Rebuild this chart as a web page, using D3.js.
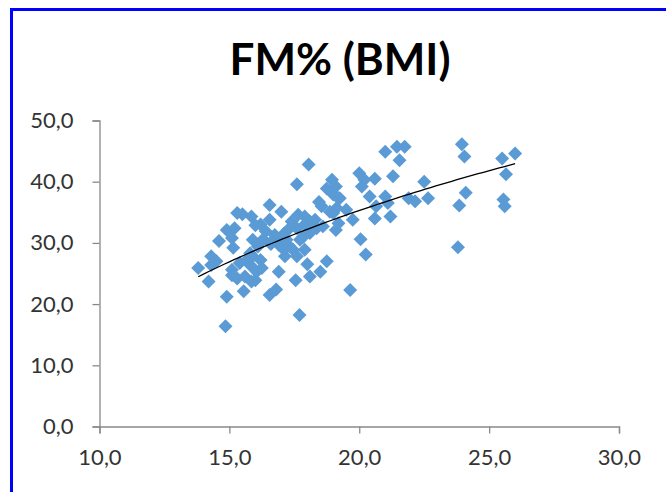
<!DOCTYPE html>
<html>
<head>
<meta charset="utf-8">
<script src="https://cdn.jsdelivr.net/npm/d3@7.9.0/dist/d3.min.js"></script>
<style>
  html, body { margin: 0; padding: 0; background: #fff; }
  svg { display: block; }
  text { font-family: Lato, "Open Sans", sans-serif; }
</style>
</head>
<body>
<svg id="chart" width="666" height="492"></svg>
<script>
const title = 'FM% (BMI)';
const xTicks = [10, 15, 20, 25, 30];
const yTicks = [0, 10, 20, 30, 40, 50];

// BMI values
const bmi = [
  13.8, 14.2, 14.3, 14.5, 14.6, 14.9, 14.9, 14.85, 15.3, 15.15,
  15.3, 15.2, 15.1, 15.1, 15.4, 15.55, 15.8, 15.85, 15.9, 15.9,
  15.85, 16.05, 16.25, 16.2, 16.4, 16.55, 16.55, 16.75, 16.55, 16.8,
  16.9, 16.9, 17.0, 17.1, 17.4, 17.45, 17.25, 17.6, 17.65, 17.9,
  17.85, 17.9, 17.6, 18.05, 17.55, 18.1, 17.7, 18.0, 18.5, 18.75,
  18.45, 18.55, 18.95, 19.1, 18.75, 19.0, 19.25, 19.1, 19.5, 19.75,
  19.65, 20.0, 20.2, 20.1, 20.6, 20.4, 20.65, 20.05, 20.25, 20.6,
  21.0, 21.45, 21.75, 21.55, 21.3, 22.5, 21.0, 21.9, 22.15, 22.65,
  21.1, 21.2, 23.95, 24.05, 25.5, 26.0, 25.65, 24.1, 23.85, 25.55,
  25.6, 23.8,
  16.1, 15.8, 15.67, 16.2, 16.57, 17.14, 17.6, 17.72, 17.9, 18.1,
  18.3, 18.36, 18.6, 18.1, 19.13, 18.87, 19.13, 15.5, 16.0, 16.3,
  16.6, 16.95, 17.2, 17.1, 17.3, 14.3, 15.6, 16.0, 15.1, 19.2, 19.0
];
// FM% values
const fm = [
  25.9, 23.7, 27.8, 27.0, 30.3, 32.1, 21.2, 16.4, 34.9, 29.2,
  24.2, 32.4, 30.8, 25.6, 26.7, 22.1, 26.4, 34.3, 30.5, 27.8,
  23.7, 25.3, 25.9, 33.0, 31.9, 36.2, 33.8, 31.3, 21.5, 22.4,
  29.7, 25.3, 35.1, 28.9, 33.5, 28.9, 32.1, 32.4, 34.6, 34.3,
  31.0, 28.9, 39.6, 42.8, 23.9, 24.5, 18.2, 26.5, 25.3, 27.0,
  36.7, 36.0, 40.3, 39.2, 38.9, 37.9, 37.3, 32.1, 35.4, 33.8,
  22.3, 41.4, 40.3, 39.2, 40.5, 37.6, 36.0, 30.6, 28.1, 34.0,
  44.9, 45.7, 45.7, 43.5, 40.9, 40.0, 37.6, 37.3, 36.8, 37.3,
  36.5, 34.3, 46.1, 44.1, 43.8, 44.6, 41.2, 38.2, 36.1, 37.1,
  36.0, 29.3,
  29.4, 28.3, 27.2, 27.2, 30.0, 27.8, 27.8, 30.5, 33.0, 33.5,
  33.8, 32.4, 32.7, 31.6, 37.6, 35.1, 35.7, 34.7, 32.9, 30.6,
  29.8, 30.1, 30.5, 31.5, 29.5, 26.4, 24.5, 23.9, 24.7, 33.2, 34.9
];

const points = bmi.map((b, i) => ({ x: b, y: fm[i] }));

const svg = d3.select('#chart');

// blue frame (left + top edges visible)
svg.append('path')
  .attr('d', 'M11.5,492 V9.5 H666')
  .attr('fill', 'none')
  .attr('stroke', '#0000ff')
  .attr('stroke-width', 3);

svg.append('text')
  .attr('x', 340)
  .attr('y', 75)
  .attr('text-anchor', 'middle')
  .attr('font-size', 44)
  .attr('font-weight', 'bold')
  .attr('fill', '#000')
  .text(title);

const x = d3.scaleLinear().domain([10, 30]).range([99.5, 619]);
const y = d3.scaleLinear().domain([0, 50]).range([426.5, 120.5]);

const xAxis = svg.append('g')
  .attr('transform', `translate(0,${y(0)})`)
  .call(d3.axisBottom(x).tickValues(xTicks).tickSize(7).tickPadding(12)
    .tickFormat(d => d3.format('.1f')(d).replace('.', ',')));
const yAxis = svg.append('g')
  .attr('transform', `translate(${x(10)},0)`)
  .call(d3.axisLeft(y).tickValues(yTicks).tickSize(7).tickPadding(19)
    .tickFormat(d => d3.format('.1f')(d).replace('.', ',')));

[xAxis, yAxis].forEach(g => {
  g.select('.domain').attr('stroke', '#898989').attr('stroke-width', 1.3);
  g.selectAll('.tick line').attr('stroke', '#898989').attr('stroke-width', 1.3);
  g.selectAll('.tick text')
    .attr('font-size', 22)
    .attr('fill', '#333')
    .style('font-family', 'Lato, "Open Sans", sans-serif');
});
xAxis.selectAll('.tick text').attr('dy', '0.9em');

// diamonds
const diamond = d3.symbol().type(d3.symbolSquare).size(98);
svg.append('g')
  .selectAll('path')
  .data(points)
  .join('path')
  .attr('d', diamond)
  .attr('transform', d => `translate(${x(d.x)},${y(d.y)}) rotate(45)`)
  .attr('fill', '#5b9bd5');

// logarithmic trendline fitted to the points
const lx = points.map(p => Math.log(p.x));
const mx = d3.mean(lx), my = d3.mean(points, p => p.y);
const b = d3.sum(points, (p, i) => (lx[i] - mx) * (p.y - my)) / d3.sum(lx, v => (v - mx) ** 2);
const a = my - b * mx;
const [xmin, xmax] = d3.extent(points, p => p.x);
const trend = d3.range(0, 61).map(i => {
  const xv = xmin + (xmax - xmin) * i / 60;
  return { x: xv, y: a + b * Math.log(xv) };
});
svg.append('path')
  .datum(trend)
  .attr('d', d3.line().x(d => x(d.x)).y(d => y(d.y)))
  .attr('fill', 'none')
  .attr('stroke', '#000')
  .attr('stroke-width', 1.3);
</script>
</body>
</html>
